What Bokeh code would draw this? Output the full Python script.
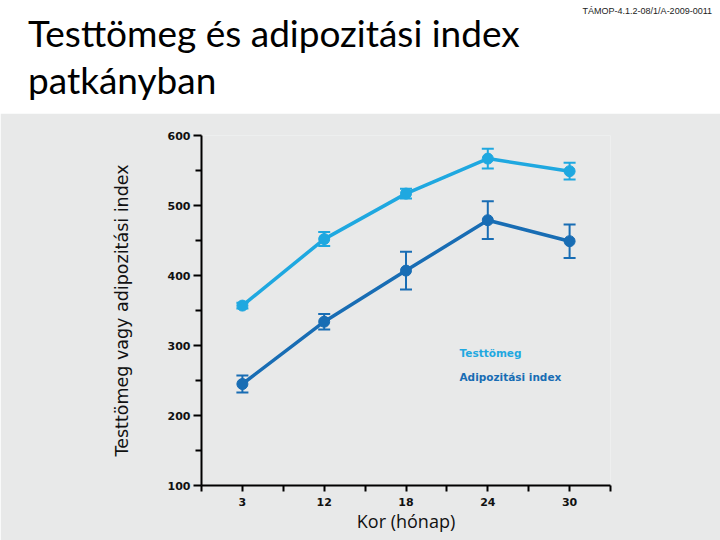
from bokeh.plotting import figure
from bokeh.models import (ColumnDataSource, Range1d, FixedTicker, Whisker, TeeHead, Label, Div)
from bokeh.layouts import column
from bokeh.embed import file_html
from bokeh.resources import INLINE

# Age groups (months)
ages = ["3", "12", "18", "24", "30"]
# Body weight (g) and adiposity index, mean and SEM
body_weight = [357, 452, 517, 567, 549]
body_weight_err = [4, 10, 7, 14, 12]
adiposity = [245, 334, 407, 479, 449]
adiposity_err = [12, 11, 27, 27, 24]
y_ticks = [100, 200, 300, 400, 500, 600]

LIGHT = "#1fa8e0"
DARK = "#186db4"
GRAY = "#e8e9e9"

idx = list(range(len(ages)))

# --- header strip with title ---
header_html = (
    '<div style="position:relative;width:720px;height:113px;background:white;overflow:hidden;">'
    '<div style="position:absolute;left:28px;top:9px;font-family:Lato;font-size:37px;'
    'line-height:47px;color:black;white-space:nowrap;">'
    'Testtömeg és adipozitási index<br>patkányban</div>'
    '<div style="position:absolute;right:8px;top:5px;font-family:\'Liberation Sans\';'
    'font-size:9px;color:#222;white-space:nowrap;">TÁMOP-4.1.2-08/1/A-2009-0011</div>'
    '</div>'
)
head = Div(text=header_html, width=720, height=113, margin=(0, 0, 0, 0))

# --- main chart ---
p = figure(width=720, height=427, x_range=Range1d(-0.5, 4.5), y_range=Range1d(100, 600),
           toolbar_location=None, output_backend="svg",
           min_border_left=201, min_border_right=110, min_border_top=22, min_border_bottom=55)
p.background_fill_color = GRAY
p.border_fill_color = GRAY
p.outline_line_color = None
p.grid.visible = False

src_w = ColumnDataSource(dict(x=idx, y=body_weight,
                              lo=[v - e for v, e in zip(body_weight, body_weight_err)],
                              hi=[v + e for v, e in zip(body_weight, body_weight_err)]))
src_a = ColumnDataSource(dict(x=idx, y=adiposity,
                              lo=[v - e for v, e in zip(adiposity, adiposity_err)],
                              hi=[v + e for v, e in zip(adiposity, adiposity_err)]))

for src, col in ((src_w, LIGHT), (src_a, DARK)):
    p.line("x", "y", source=src, line_color=col, line_width=3.5)
    p.add_layout(Whisker(source=src, base="x", upper="hi", lower="lo", line_color=col,
                         line_width=2,
                         upper_head=TeeHead(size=12, line_color=col, line_width=2),
                         lower_head=TeeHead(size=12, line_color=col, line_width=2)))
    p.scatter("x", "y", source=src, size=11, fill_color=col, line_color=col)

# axes
p.xaxis.ticker = FixedTicker(ticks=idx, minor_ticks=[i - 0.5 for i in range(len(ages) + 1)])
p.xaxis.major_label_overrides = {i: a for i, a in enumerate(ages)}
p.yaxis.ticker = FixedTicker(ticks=y_ticks, minor_ticks=[t + 50 for t in y_ticks[:-1]])

for ax in (p.xaxis[0], p.yaxis[0]):
    ax.axis_line_color = "black"
    ax.axis_line_width = 2
    ax.major_tick_line_color = "black"
    ax.major_tick_line_width = 2
    ax.minor_tick_line_color = "black"
    ax.minor_tick_line_width = 2
    ax.major_tick_in = 0
    ax.minor_tick_in = 0
    ax.major_label_text_font = "DejaVu Sans"
    ax.major_label_text_font_size = "11px"
    ax.major_label_text_font_style = "bold"
    ax.major_label_text_color = "#111111"
    ax.axis_label_text_font_style = "normal"
    ax.axis_label_text_color = "#111111"

p.yaxis.major_tick_out = 8
p.yaxis.minor_tick_out = 6
p.xaxis.major_tick_out = 6
p.xaxis.minor_tick_out = 6
p.yaxis.major_label_standoff = 3
p.xaxis.major_label_standoff = 6

p.yaxis.axis_label = "Testtömeg vagy adipozitási index"
p.yaxis.axis_label_text_font = "DejaVu Sans"
p.yaxis.axis_label_text_font_size = "17.5px"
p.yaxis.axis_label_standoff = 33

p.xaxis.axis_label = "Kor (hónap)"
p.xaxis.axis_label_text_font = "Open Sans"
p.xaxis.axis_label_text_font_size = "18px"
p.xaxis.axis_label_standoff = 0

# series labels
p.add_layout(Label(x=2.654, y=288.6, text="Testtömeg", text_color=LIGHT,
                   text_font="DejaVu Sans", text_font_size="10.5px", text_font_style="bold",
                   text_baseline="middle"))
p.add_layout(Label(x=2.654, y=255.7, text="Adipozitási index", text_color=DARK,
                   text_font="DejaVu Sans", text_font_size="10.5px", text_font_style="bold",
                   text_baseline="middle"))

layout = column(head, p, spacing=0)
open("out.html", "w").write(file_html(layout, INLINE))
